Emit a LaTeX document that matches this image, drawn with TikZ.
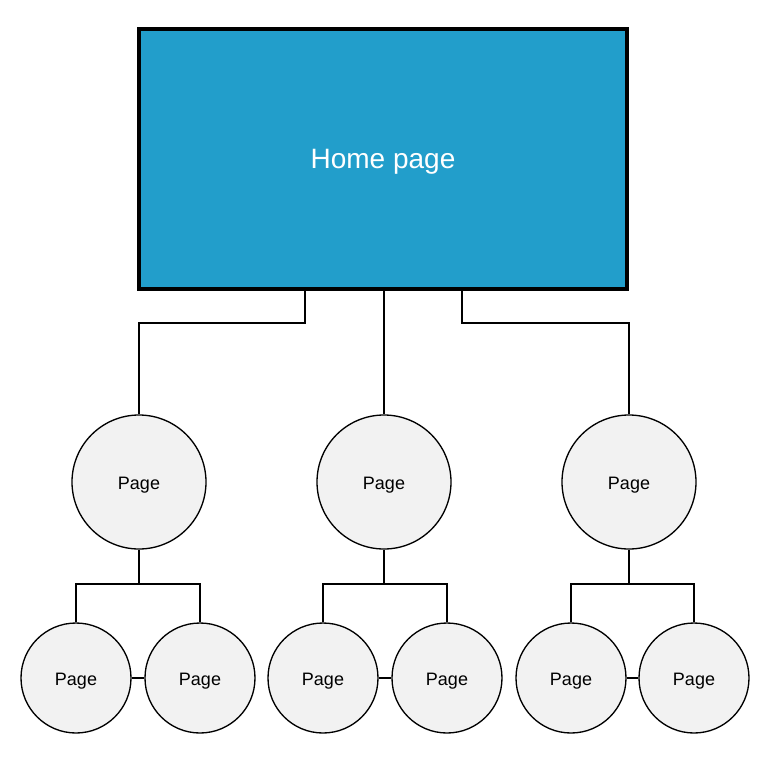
\documentclass[tikz,border=0pt]{standalone}
\usepackage{fontspec}
\setmainfont{Liberation Sans}
\definecolor{homeblue}{HTML}{229ECB}
\definecolor{pagegray}{HTML}{F2F2F2}
\begin{document}
\begin{tikzpicture}[x=0.75pt,y=-0.75pt,
  home/.style={draw=black,line width=2.4pt,fill=homeblue,minimum width=488*0.75pt,minimum height=260*0.75pt,inner sep=0pt,text=white,text height=13.5pt,text depth=0pt,font=\fontsize{21}{25}\selectfont},
  pagebase/.style={circle,draw=black,line width=1pt,fill=pagegray,inner sep=0pt,text height=10.5pt,text depth=0pt,font=\fontsize{13.5}{16}\selectfont},
  bigpage/.style={pagebase,minimum size=134*0.75pt},
  smallpage/.style={pagebase,minimum size=110*0.75pt},
  link/.style={draw=black,line width=1pt}]
\useasboundingbox (0,0) rectangle (768,768);
\node[home] (home) at (383,159) {Home page};
\node[bigpage] (p1) at (139,482) {Page};
\node[bigpage] (p2) at (384,482) {Page};
\node[bigpage] (p3) at (629,482) {Page};
\node[smallpage] (s1) at (76,678) {Page};
\node[smallpage] (s2) at (200,678) {Page};
\node[smallpage] (s3) at (323,678) {Page};
\node[smallpage] (s4) at (447,678) {Page};
\node[smallpage] (s5) at (571,678) {Page};
\node[smallpage] (s6) at (694,678) {Page};
% top connectors
\draw[link] (home.south -| 305,0) |- (139,323) -- (p1.north);
\draw[link] (home.south -| p2.north) -- (p2.north);
\draw[link] (home.south -| 462,0) |- (629,323) -- (p3.north);
% lower brackets
\foreach \p/\a/\b in {p1/s1/s2,p2/s3/s4,p3/s5/s6}{
  \draw[link] (\p.south) -- (\p.south |- 0,584);
  \draw[link] (\a.north) -- (\a.north |- 0,584) -- (\b.north |- 0,584) -- (\b.north);
  \draw[link] (\a.east) -- (\b.west);
}
\end{tikzpicture}
\end{document}
